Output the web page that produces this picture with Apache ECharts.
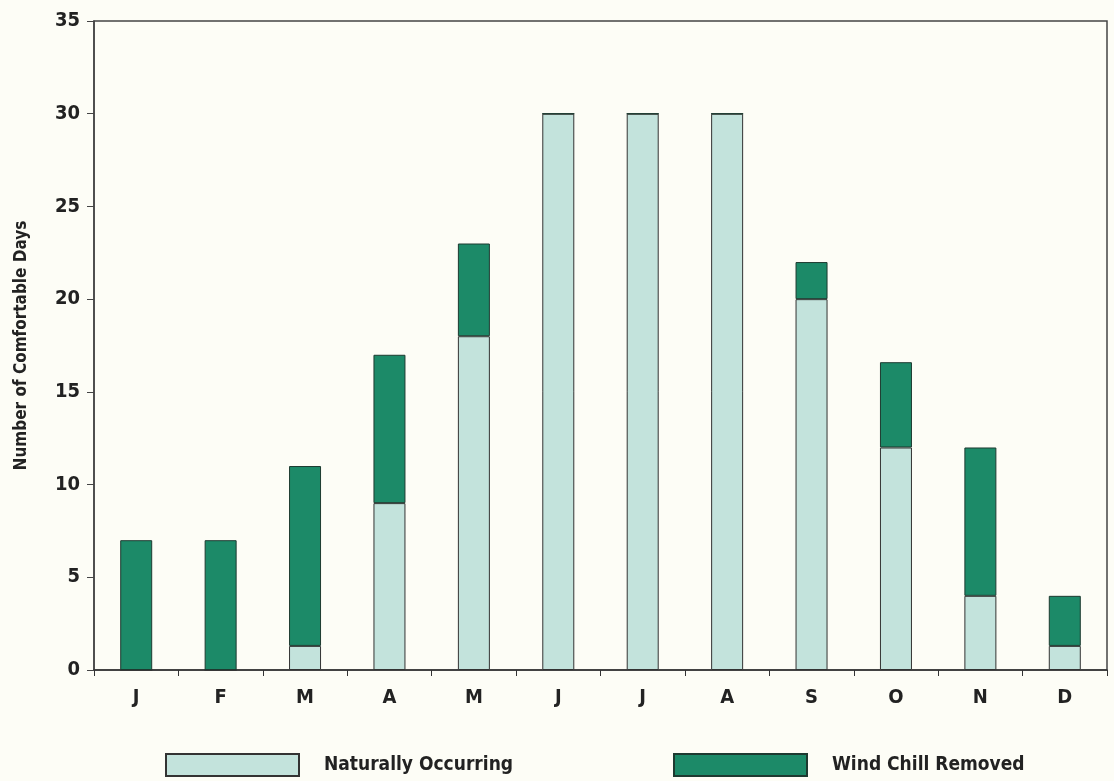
<!DOCTYPE html>
<html><head><meta charset="utf-8">
<script src="https://cdn.jsdelivr.net/npm/echarts@6/dist/echarts.min.js"></script>
<style>html,body{margin:0;padding:0;background:#fdfdf6;}#c{width:1114px;height:781px;}</style>
</head><body><div id="c"></div>
<script>
const months = ['J','F','M','A','M','J','J','A','S','O','N','D'];
const naturallyOccurring = [0, 0, 1.3, 9, 18, 30, 30, 30, 20, 12, 4, 1.3];
const windChillRemoved = [7, 7, 9.7, 8, 5, 0, 0, 0, 2, 4.6, 8, 2.7];
const yTicks = [0, 5, 10, 15, 20, 25, 30, 35];

const font = '"DejaVu Sans Condensed", "Liberation Sans Narrow", sans-serif';
const lightColor = '#c3e3dc';
const darkColor = '#1c8a68';
const chart = echarts.init(document.getElementById('c'));
chart.setOption({
  backgroundColor: '#fdfdf6',
  animation: false,
  grid: { left: 94, right: 7, top: 21, bottom: 111, show: true, borderColor: '#444', borderWidth: 1.5, backgroundColor: 'transparent' },
  legend: [
    { data: ['Naturally Occurring'], icon: 'rect', left: 165, top: 753, padding: 0, itemWidth: 133, itemHeight: 22, itemGap: 0,
      textStyle: { fontFamily: font, fontSize: 19, fontWeight: 'bold', color: '#222', padding: [0, 0, 0, 20] } },
    { data: ['Wind Chill Removed'], icon: 'rect', left: 673, top: 753, padding: 0, itemWidth: 133, itemHeight: 22, itemGap: 0,
      textStyle: { fontFamily: font, fontSize: 19, fontWeight: 'bold', color: '#222', padding: [0, 0, 0, 20] } }
  ],
  xAxis: {
    type: 'category', data: months,
    axisLine: { lineStyle: { color: '#333', width: 1.5 } },
    axisTick: { show: true, alignWithLabel: false, length: 6, lineStyle: { color: '#333' } },
    axisLabel: { fontFamily: font, fontSize: 20, fontWeight: 'bold', color: '#222', margin: 18 }
  },
  yAxis: {
    type: 'value', min: yTicks[0], max: yTicks[yTicks.length - 1], interval: 5,
    name: 'Number of Comfortable Days', nameLocation: 'middle', nameGap: 64, nameRotate: 90,
    nameTextStyle: { fontFamily: font, fontSize: 17, fontWeight: 'bold', color: '#222' },
    splitLine: { show: false },
    axisLine: { show: true, lineStyle: { color: '#444', width: 1.5 } },
    axisTick: { show: true, length: 7, lineStyle: { color: '#444' } },
    axisLabel: { fontFamily: font, fontSize: 20, fontWeight: 'bold', color: '#222', margin: 14 }
  },
  series: [
    { name: 'Naturally Occurring', type: 'bar', stack: 't', data: naturallyOccurring, barWidth: 32,
      itemStyle: { color: lightColor, borderColor: '#333', borderWidth: 1 } },
    { name: 'Wind Chill Removed', type: 'bar', stack: 't', data: windChillRemoved, barWidth: 32,
      itemStyle: { color: darkColor, borderColor: '#1d3a30', borderWidth: 1 } }
  ]
});
</script></body></html>
